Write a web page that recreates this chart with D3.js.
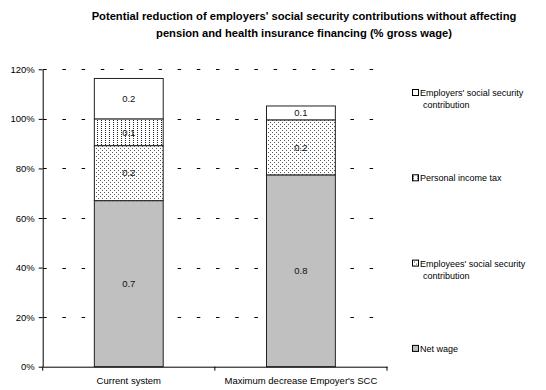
<!DOCTYPE html>
<html>
<head>
<meta charset="utf-8">
<script src="https://cdn.jsdelivr.net/npm/d3@7"></script>
<style>
  html, body { margin: 0; padding: 0; background: #fff; }
  svg { display: block; font-family: "Liberation Sans", Arial, sans-serif; }
</style>
</head>
<body>
<svg id="chart" width="546" height="390"></svg>
<script>
// Categories and stacked series (share of gross wage)
const categories = ["Current system", "Maximum decrease Empoyer's SCC"];
const netWage = [0.67, 0.774];
const employeesSSC = [0.222, 0.222];
const incomeTax = [0.108, 0];
const employersSSC = [0.163, 0.056];
const yTicks = [0, 0.2, 0.4, 0.6, 0.8, 1.0, 1.2];

const seriesNames = ["Net wage", "Employees' social security contribution", "Personal income tax", "Employers' social security contribution"];
const seriesValues = [netWage, employeesSSC, incomeTax, employersSSC];
const seriesKeys = ["net", "emp", "tax", "er"];

const titleLines = [
  "Potential reduction of employers' social security contributions without affecting",
  "pension and health insurance financing (% gross wage)"
];

const svg = d3.select("#chart");
const plot = { left: 42.7, right: 387, top: 69.3, bottom: 366.7 };

// Fill patterns
const defs = svg.append("defs");
const pTax = defs.append("pattern").attr("id", "pat-tax")
  .attr("patternUnits", "userSpaceOnUse").attr("width", 4).attr("height", 2);
pTax.append("rect").attr("width", 4).attr("height", 2).attr("fill", "#fff");
pTax.append("rect").attr("x", 1).attr("y", 0).attr("width", 1).attr("height", 1).attr("fill", "#222");

const pEmp = defs.append("pattern").attr("id", "pat-emp")
  .attr("patternUnits", "userSpaceOnUse").attr("width", 4).attr("height", 4);
pEmp.append("rect").attr("width", 4).attr("height", 4).attr("fill", "#fff");
pEmp.append("rect").attr("x", 0).attr("y", 0).attr("width", 1).attr("height", 1).attr("fill", "#555");
pEmp.append("rect").attr("x", 2).attr("y", 2).attr("width", 1).attr("height", 1).attr("fill", "#555");

const fills = { net: "#c0c0c0", emp: "url(#pat-emp)", tax: "url(#pat-tax)", er: "#ffffff" };

// Scales
const x = d3.scaleBand().domain(categories).range([plot.left, plot.right]).padding(0);
const y = d3.scaleLinear().domain([0, 1.2]).range([plot.bottom, plot.top]);
const barW = x.bandwidth() / 2.5;

// Title
svg.append("g").selectAll("text").data(titleLines).join("text")
  .attr("x", 304).attr("y", (d, i) => 20 + i * 17)
  .attr("text-anchor", "middle")
  .attr("font-size", 11.2).attr("font-weight", "bold").attr("fill", "#000")
  .text(d => d);

// Dashed gridlines
svg.append("g").selectAll("line").data(yTicks.filter(t => t > 0)).join("line")
  .attr("x1", plot.left + 0.5).attr("x2", plot.right)
  .attr("y1", d => Math.round(y(d)) + 0.5).attr("y2", d => Math.round(y(d)) + 0.5)
  .attr("stroke", "#000").attr("stroke-width", 1)
  .attr("stroke-dasharray", "3.5,15.7");

// Stacked bars
const stackData = categories.map((c, i) => {
  const o = { cat: c };
  seriesKeys.forEach((k, j) => o[k] = seriesValues[j][i]);
  return o;
});
const stacked = d3.stack().keys(seriesKeys)(stackData);

const barG = svg.append("g");
stacked.forEach(layer => {
  barG.append("g").selectAll("rect").data(layer.filter(d => d[1] - d[0] > 0)).join("rect")
    .attr("x", d => x(d.data.cat) + (x.bandwidth() - barW) / 2)
    .attr("y", d => y(d[1]))
    .attr("width", barW)
    .attr("height", d => y(d[0]) - y(d[1]))
    .attr("fill", fills[layer.key])
    .attr("stroke", "#222").attr("stroke-width", 1);
});

// Value labels
const fmt = d3.format(".1f");
stacked.forEach(layer => {
  barG.append("g").selectAll("text").data(layer.filter(d => d[1] - d[0] > 0)).join("text")
    .attr("x", d => x(d.data.cat) + x.bandwidth() / 2)
    .attr("y", d => (y(d[0]) + y(d[1])) / 2)
    .attr("dy", "0.35em")
    .attr("text-anchor", "middle")
    .attr("font-size", 9.5).attr("fill", "#111")
    .text(d => fmt(d[1] - d[0]));
});

// Y axis
const yAxis = d3.axisLeft(y).tickValues(yTicks).tickFormat(d3.format(".0%"))
  .tickSizeInner(4).tickSizeOuter(0).tickPadding(4);
const gy = svg.append("g").attr("transform", `translate(${plot.left},0)`).call(yAxis);
gy.select(".domain").attr("stroke", "#000");
gy.selectAll(".tick line").attr("stroke", "#000");
gy.selectAll(".tick text").attr("font-size", 9.5).attr("fill", "#000")
  .attr("font-family", "Liberation Sans, Arial, sans-serif");

// X axis
const xAxis = d3.axisBottom(x).tickSizeInner(0).tickSizeOuter(0).tickPadding(11);
const gx = svg.append("g").attr("transform", `translate(0,${plot.bottom})`).call(xAxis);
gx.select(".domain").attr("stroke", "#000");
gx.selectAll(".tick text").attr("font-size", 9.5).attr("fill", "#000")
  .attr("font-family", "Liberation Sans, Arial, sans-serif");
// Category boundary ticks
const bounds = [plot.left, x(categories[1]), plot.right];
gx.append("g").selectAll("line").data(bounds).join("line")
  .attr("x1", d => d).attr("x2", d => d).attr("y1", 0).attr("y2", 4)
  .attr("stroke", "#000");

// Legend (top entry is the top of the stack)
const legendOrder = [3, 2, 1, 0];
const legendWrap = {
  "Employers' social security contribution": ["Employers' social security", "contribution"],
  "Personal income tax": ["Personal income tax"],
  "Employees' social security contribution": ["Employees' social security", "contribution"],
  "Net wage": ["Net wage"]
};
const leg = svg.append("g").attr("transform", "translate(412,0)");
legendOrder.forEach((si, i) => {
  const cy = 93 + i * 85.3;
  const g = leg.append("g").attr("transform", `translate(0,${cy})`);
  g.append("rect").attr("x", 0.5).attr("y", -3.5).attr("width", 6).attr("height", 6)
    .attr("fill", fills[seriesKeys[si]]).attr("stroke", "#000").attr("stroke-width", 1);
  legendWrap[seriesNames[si]].forEach((line, li) => {
    g.append("text")
      .attr("x", li === 0 ? 8 : 11).attr("y", li * 12)
      .attr("dy", "0.35em")
      .attr("font-size", 9).attr("fill", "#000")
      .text(line);
  });
});
</script>
</body>
</html>
